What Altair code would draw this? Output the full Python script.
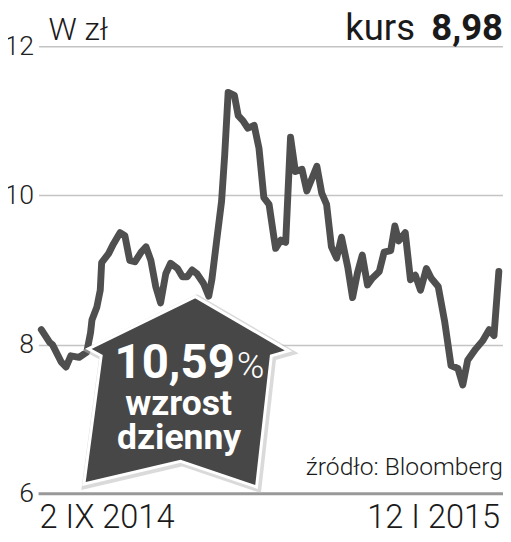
import altair as alt
import pandas as pd

# time in days since 2 IX 2014 and share price (zł)
days = [0, 2.4, 3.2, 5.7, 7.1, 8.5, 10.9, 13.1, 14.2, 14.6, 16.0, 17.0, 17.4, 19.4,
        20.8, 22.7, 24.1, 25.5, 27.0, 28.8, 30.2, 31.6, 33.0, 34.4, 35.9, 37.3,
        39.3, 40.7, 42.1, 43.5, 44.9, 46.8, 48.3, 49.2, 50.6, 52.0, 52.9, 53.9,
        55.7, 56.8, 58.2, 59.6, 61.4, 62.8, 64.2, 65.7, 67.1, 67.6, 69.1, 70.5,
        71.9, 73.3, 75.2, 76.6, 78.1, 79.5, 80.9, 82.3, 83.7, 85.2, 86.6, 88.4,
        89.8, 91.2, 92.6, 94.1, 95.5, 97.5, 98.9, 100.8, 102.0, 103.1, 105.0,
        106.5, 107.9, 109.4, 111.1, 112.5, 114.5, 116.4, 118.2, 120.2, 121.6,
        123.0, 125.3, 127.3, 129.2, 130.6, 132.0]
prices = [8.20, 8.03, 8.00, 7.77, 7.70, 7.85, 7.83, 7.90, 8.16, 8.33, 8.50, 8.73, 9.10, 9.22,
          9.35, 9.50, 9.46, 9.13, 9.11, 9.24, 9.31, 9.13, 8.78, 8.56, 8.95, 9.09,
          9.02, 8.91, 8.91, 9.00, 8.95, 8.82, 8.65, 8.87, 9.40, 9.92, 10.54, 11.38,
          11.34, 11.07, 11.00, 10.90, 10.94, 10.63, 9.97, 9.88, 9.44, 9.29, 9.40, 9.37,
          10.78, 10.32, 10.35, 10.06, 10.23, 10.39, 10.03, 9.88, 9.31, 9.16, 9.44, 9.04,
          8.63, 8.96, 9.20, 8.80, 8.89, 8.98, 9.24, 9.26, 9.59, 9.39, 9.50,
          8.87, 8.93, 8.73, 9.02, 8.89, 8.78, 8.30, 7.72, 7.68, 7.46,
          7.79, 7.94, 8.05, 8.20, 8.12, 8.98]
y_ticks = [6, 8, 10, 12]

df = pd.DataFrame({"d": days, "v": prices})
one = pd.DataFrame({"a": [0]})

FONT = "Roboto"
W, H = 471, 454

xs = alt.X("d:Q", scale=alt.Scale(domain=[-0.8, 133.2], nice=False, zero=False), axis=None)
ys = alt.Y("v:Q", scale=alt.Scale(domain=[6, 12], nice=False, zero=False),
           axis=alt.Axis(values=y_ticks, format="d", grid=True, domain=False, ticks=False,
                         labelFontSize=27, labelFont=FONT, labelFontWeight=300,
                         labelColor="#222222", labelPadding=5, gridColor="#c4c4c4",
                         gridWidth=1.5, title=None, labelBaseline="middle"))

line = alt.Chart(df).mark_line(color="#4f4f4f", strokeWidth=7, strokeJoin="round",
                               strokeCap="round").encode(x=xs, y=ys)

base_rule = alt.Chart(pd.DataFrame({"v": [6]})).mark_rule(
    color="#999999", strokeWidth=3).encode(y=alt.Y("v:Q"))

house_path = ("M0.091,-0.928 L1.0,-0.399 L0.832,-0.351 L0.688,0.928 L-0.053,0.678 "
              "L-0.995,0.899 L-0.827,-0.351 L-0.952,-0.418 Z")

shadow = alt.Chart(one).mark_point(shape=house_path, size=43264, filled=True,
                                   fill="#9a9a9a", stroke="#bdbdbd", strokeWidth=7,
                                   opacity=0.55).encode(x=alt.value(151), y=alt.value(352))
house = alt.Chart(one).mark_point(shape=house_path, size=43264, filled=True,
                                  fill="#474747", stroke="white", strokeWidth=3,
                                  opacity=1).encode(x=alt.value(149.5), y=alt.value(350.5))


def txt(text, x, y, size, weight="normal", align="left", color="#1a1a1a"):
    return alt.Chart(one).mark_text(text=text, fontSize=size, fontWeight=weight,
                                    align=align, baseline="alphabetic", font=FONT,
                                    color=color).encode(x=alt.value(x), y=alt.value(y))


texts = [
    txt("W zł", 10, -6, 32, 300),
    txt("kurs", 311, -6, 37, "normal"),
    txt("8,98", 471, -6, 37, "bold", "right"),
    txt("źródło: Bloomberg", 471, 435, 25, 300, "right"),
    txt("2 IX 2014", 1, 489, 33, 300),
    txt("12 I 2015", 468, 489, 33, 300, "right"),
    txt("10,59", 199, 337, 48, "bold", "right", "white"),
    txt("%", 201, 337, 38, 300, "left", "white"),
    txt("wzrost", 142, 374, 36, "bold", "center", "white"),
    txt("dzienny", 142.5, 409, 36, "bold", "center", "white"),
]

chart = alt.layer(base_rule, line, shadow, house, *texts).properties(
    width=W, height=H,
    autosize=alt.AutoSizeParams(type="none"),
    padding={"left": 31, "top": 35, "right": 0, "bottom": 37},
).configure(background="white", view=alt.ViewConfig(stroke=None))

chart.save("out.html", embed_options={"renderer": "svg", "actions": False})
